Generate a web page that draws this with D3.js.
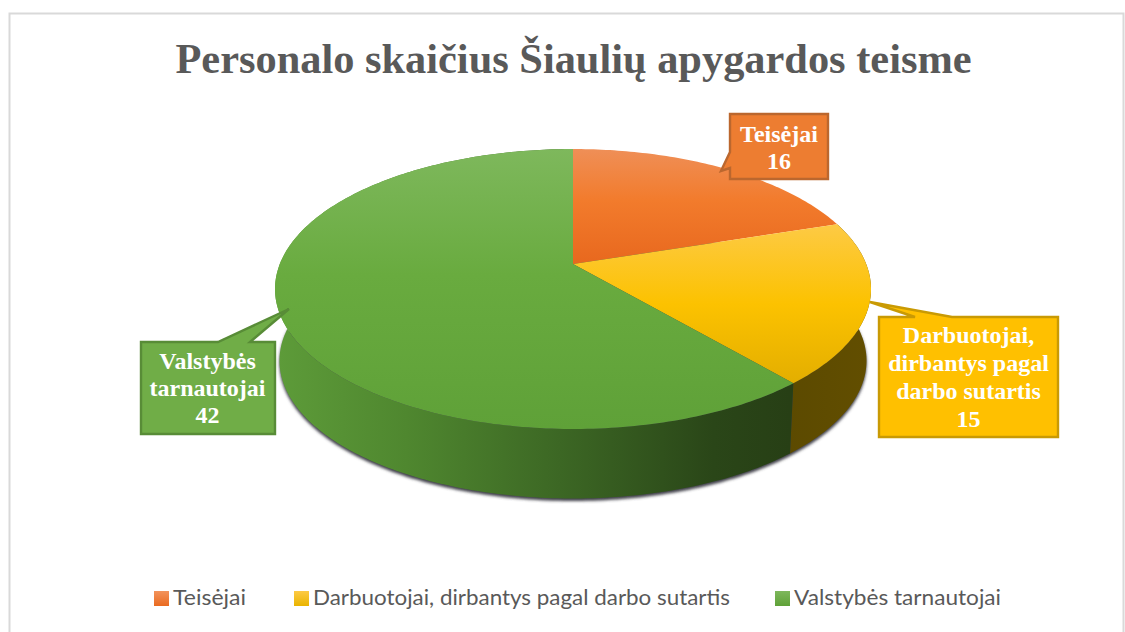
<!DOCTYPE html>
<html><head><meta charset="utf-8">
<script src="https://cdn.jsdelivr.net/npm/d3@7/dist/d3.min.js"></script>
<style>html,body{margin:0;padding:0;background:#fff}svg{display:block}</style>
</head><body><svg id="c" width="1125" height="632"></svg>
<script>
const titleText = "Personalo skaičius Šiaulių apygardos teisme";
const categories = ["Teisėjai", "Darbuotojai, dirbantys pagal darbo sutartis", "Valstybės tarnautojai"];
const labelValues = [16, 15, 42];           // values printed in the callouts
const drawnShares = [16, 15, 49];           // slice sizes as measured on the picture (the green slice is drawn larger than its label)
const labelLines = [["Teisėjai"], ["Darbuotojai,", "dirbantys pagal", "darbo sutartis"], ["Valstybės", "tarnautojai"]];
const colors = ["#ed7d31", "#ffc000", "#70ad47"];

const W = 1125, H = 632;
const svg = d3.select("#c");
const defs = svg.append("defs");

function grad(id, x1, y1, x2, y2, stops) {
  const g = defs.append("linearGradient").attr("id", id).attr("gradientUnits", "userSpaceOnUse")
    .attr("x1", x1).attr("y1", y1).attr("x2", x2).attr("y2", y2);
  stops.forEach(s => g.append("stop").attr("offset", s[0]).attr("stop-color", s[1]));
}
grad("top0", 0, 149, 0, 264, [[0, "#ef8f57"], [0.45, "#f27b2c"], [1, "#e8681e"]]);
grad("top1", 0, 224, 0, 384, [[0, "#fdca45"], [0.5, "#fcc200"], [1, "#e3ae00"]]);
grad("top2", 0, 149, 0, 429, [[0, "#7eb85c"], [0.45, "#69ab3f"], [1, "#5fa138"]]);
grad("wall1", 788, 0, 868, 0, [[0, "#5c4a00"], [1, "#624e00"]]);
grad("wall2", 279, 0, 790, 0, [[0, "#5d9b39"], [0.25, "#4f872f"], [0.55, "#3c6724"], [0.85, "#2a4618"], [1, "#273f15"]]);
grad("sw0", 0, 591, 0, 606, [[0, "#f2935c"], [1, "#ea6a20"]]);
grad("sw1", 0, 591, 0, 606, [[0, "#fdca45"], [1, "#eab400"]]);
grad("sw2", 0, 591, 0, 606, [[0, "#7eb85c"], [1, "#5fa138"]]);
defs.append("filter").attr("id", "blur").attr("x", "-5%").attr("y", "-10%").attr("width", "110%").attr("height", "120%")
  .append("feGaussianBlur").attr("stdDeviation", 1.8);

// frame
svg.append("path").attr("d", `M9.5,${H} V13.5 H1123.5 V${H}`).attr("fill", "none").attr("stroke", "#d9d9d9").attr("stroke-width", 2);

// title
svg.append("text").attr("x", 573.5).attr("y", 73).attr("text-anchor", "middle")
  .attr("font-family", "'Liberation Serif'").attr("font-weight", "bold").attr("font-size", 42.4)
  .attr("fill", "#595959").text(titleText);

// perspective projection of the tilted pie
const cx = 573, apexY = 264, A = 293.2, B = 135.5, q = 0.1786, wallDrop = 72, wallScale = 0.985;
function project(theta, low) {
  const u = Math.sin(theta), v = -Math.cos(theta), d = 1 - q * v, s = low ? wallScale : 1;
  return [cx + s * A * u / d, apexY + s * B * v / d + (low ? wallDrop : 0)];
}
const arcPts = (a0, a1, low) => {
  const n = Math.max(2, Math.ceil((a1 - a0) * 60));
  return d3.range(n + 1).map(i => project(a0 + (a1 - a0) * i / n, low));
};
const line = d3.line();
const arcs = d3.pie().sort(null).value(d => d)(drawnShares);

// soft shadow below the wall
svg.append("path").attr("d", line(arcPts(0, 2 * Math.PI, true).map(p => [p[0], p[1] + 2.5])) + "Z")
  .attr("fill", "#3f3f48").attr("filter", "url(#blur)");

// side walls
svg.append("g").selectAll("path").data(arcs.slice(1)).join("path")
  .attr("d", d => line(arcPts(d.startAngle, d.endAngle, false).concat(arcPts(d.startAngle, d.endAngle, true).reverse())) + "Z")
  .attr("fill", (d, i) => `url(#wall${i + 1})`);

// top face
svg.append("g").selectAll("path").data(arcs).join("path")
  .attr("d", d => line([[cx, apexY]].concat(arcPts(d.startAngle, d.endAngle, false))) + "Z")
  .attr("fill", (d, i) => `url(#top${i})`);

// callouts (layout only: box, pointer base and tip, text baselines)
const callouts = [
  { box: [730, 114, 98, 65], base: [[730, 152], [730, 168]], tip: [721, 171], fill: colors[0], stroke: "#bb672e", base0: 142, step: 26.5, cxT: 779 },
  { box: [879, 317, 179, 120], base: [[915, 317], [952, 317]], tip: [870, 302], fill: colors[1], stroke: "#c99a04", base0: 343, step: 28, cxT: 968.5 },
  { box: [141, 342, 134, 92], base: [[218, 342], [250, 342]], tip: [289, 309], fill: colors[2], stroke: "#588c37", base0: 369, step: 27, cxT: 207.5 }
];
const cg = svg.append("g");
callouts.forEach((c, i) => {
  const [x, y, w, h] = c.box;
  const onLeft = c.base[0][0] === c.base[1][0];
  const d = onLeft
    ? `M${x},${y} H${x + w} V${y + h} H${x} V${c.base[1][1]} L${c.tip} L${c.base[0]} Z`
    : `M${x},${y} H${c.base[0][0]} L${c.tip} L${c.base[1]} H${x + w} V${y + h} H${x} Z`;
  cg.append("path").attr("d", d).attr("fill", c.fill).attr("stroke", c.stroke).attr("stroke-width", 2.4);
  const lines = labelLines[i].concat(String(labelValues[i]));
  cg.append("g").selectAll("text").data(lines).join("text")
    .attr("x", c.cxT).attr("y", (t, j) => c.base0 + j * c.step).attr("text-anchor", "middle")
    .attr("font-family", "'Liberation Serif'").attr("font-weight", "bold").attr("font-size", 24)
    .attr("fill", "#fff").text(t => t);
});

// legend
const legendX = [154, 294, 775];
const legendTextW = [73, 417, 207];
const lg = svg.append("g").selectAll("g").data(categories).join("g");
lg.append("rect").attr("x", (d, i) => legendX[i]).attr("y", 591).attr("width", 15).attr("height", 15)
  .attr("fill", (d, i) => `url(#sw${i})`);
lg.append("text").attr("x", (d, i) => legendX[i] + 19).attr("y", 605)
  .attr("font-family", "Lato").attr("font-size", 21.5).attr("fill", "#595959")
  .attr("textLength", (d, i) => legendTextW[i]).attr("lengthAdjust", "spacingAndGlyphs").text(d => d);
</script></body></html>
